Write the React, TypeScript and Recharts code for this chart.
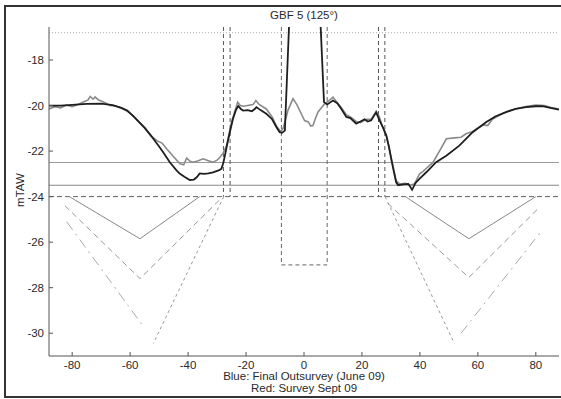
import React from 'react';
import { LineChart, Line, XAxis, YAxis, ReferenceLine } from 'recharts';

// Blue: final outsurvey (June 09) - drawn dark in the scan
const blueAngle = [
  -88, -84, -80, -75, -70, -66, -63, -61, -59, -57, -55, -52, -50, -48.6, -46.3, -44, -42.8, -41,
  -39.4, -38, -37, -36, -34.5, -33, -31.4, -29.5, -28.5, -27.8, -27.3, -26.5, -25.6, -24.5, -23.5,
  -22.7, -21.8, -21, -19.5, -18, -17, -16.4, -15, -13, -11, -9.5, -8.4, -7.6, -6.6, 0, 6.9, 8, 10,
  11.5, 12.9, 14.6, 16, 18, 19.5, 20.9, 22, 23.2, 24.9, 26.1, 27.2, 28.4, 29.3, 30.1, 31, 31.8, 32.5,
  34.1, 36, 37.3, 38.5, 40, 42.2, 45.6, 49.1, 53.6, 58.2, 62.8, 66, 69.7, 73, 76.6, 80, 82.3, 85, 88,
];
const blueLevel = [
  -20.0, -20.0, -19.97, -19.93, -19.92, -19.98, -20.1, -20.22, -20.45, -20.72, -20.98, -21.46, -21.8,
  -22.05, -22.49, -22.85, -23.0, -23.15, -23.27, -23.25, -23.15, -22.98, -23.0, -22.98, -22.93, -22.85,
  -22.78, -22.5, -22.2, -21.7, -21.17, -20.58, -20.2, -20.02, -20.15, -20.22, -20.2, -20.25, -20.15,
  -20.07, -20.2, -20.36, -20.6, -20.95, -21.17, -21.2, -21.1, 0, -19.85, -19.95, -19.78, -19.9, -20.15,
  -20.5, -20.55, -20.8, -20.7, -20.6, -20.7, -20.65, -20.3, -20.66, -20.95, -21.32, -21.8, -22.34,
  -22.9, -23.37, -23.5, -23.46, -23.44, -23.7, -23.4, -23.2, -22.93, -22.49, -22.2, -21.76, -21.17,
  -20.73, -20.48, -20.29, -20.15, -20.07, -20.03, -20.03, -20.1, -20.18,
];

// Red: survey Sept 09 - drawn grey in the scan
const redAngle = [
  -88, -86, -84, -82, -80, -78, -76.7, -74.5, -73.8, -72.8, -72.1, -71, -69, -67, -65, -63, -61, -59,
  -57, -55, -52.5, -50.8, -49, -47.4, -45, -42.8, -41.5, -40.5, -39.3, -38.2, -36.5, -34.8, -33, -31.4,
  -30, -29, -28, -26.7, -25, -24, -22.9, -22, -21, -19.5, -17.6, -16.6, -15.5, -13, -11, -9.5, -8,
  -7.2, -5.5, -3.8, -2.5, -1, 0.2, 1.5, 2.3, 3.1, 4, 4.8, 6, 7.1, 8.5, 10, 11, 12.9, 14.6, 16, 18, 19.5,
  21.5, 23.2, 24.9, 26, 27, 28.4, 30.1, 31.8, 33, 35, 36.4, 38, 38.7, 39.9, 41, 42.7, 44.5, 47, 49.1,
  52, 54.2, 55.9, 58, 60.5, 62, 63.4, 65, 68, 71, 74, 77, 80, 83, 85, 88,
];
const redLevel = [
  -20.15, -20.05, -20.1, -19.98, -20.05, -19.95, -19.88, -19.75, -19.6, -19.72, -19.62, -19.75, -19.85,
  -20.0, -20.02, -20.12, -20.25, -20.45, -20.7, -20.95, -21.35, -21.54, -21.65, -21.9, -22.25, -22.56,
  -22.6, -22.31, -22.45, -22.49, -22.42, -22.34, -22.42, -22.49, -22.4, -22.27, -22.1, -21.76, -20.73,
  -20.3, -19.85, -20.0, -20.03, -20.0, -19.96, -19.78, -19.95, -20.15, -20.5, -20.9, -21.15, -21.0,
  -20.2, -19.7, -19.95, -20.35, -20.66, -20.72, -20.9, -20.88, -20.55, -20.29, -20.1, -19.93, -19.8,
  -19.63, -19.8, -20.1, -20.4, -20.5, -20.7, -20.75, -20.6, -20.6, -20.25, -20.5, -20.9, -21.3, -22.3,
  -23.3, -23.45, -23.42, -23.5, -23.45, -23.3, -23.0, -22.9, -22.7, -22.5, -21.95, -21.46, -21.42,
  -21.39, -21.24, -21.15, -20.95, -20.85, -20.88, -20.6, -20.38, -20.22, -20.12, -20.03, -19.98, -20.0,
  -20.08, -20.15,
];

// design profiles below the bed level
const solidLeftX = [-81, -56.6, -36];
const solidLeftY = [-24, -25.85, -24];
const solidRightX = [35, 56.9, 80];
const solidRightY = [-24, -25.85, -24];
const dashLeftX = [-82.5, -56.6, -28.8];
const dashLeftY = [-24.4, -27.6, -24.1];
const dashRightX = [28.9, 56.9, 80.6];
const dashRightY = [-24.3, -27.55, -24.55];
const fineLeftX = [-27.7, -52];
const fineLeftY = [-24, -30.45];
const fineRightX = [28, 51.9];
const fineRightY = [-24, -30.45];
const dotDashLeftX = [-81.9, -56];
const dotDashLeftY = [-25.1, -29.6];
const dotDashRightX = [54.2, 82.3];
const dotDashRightY = [-30.0, -25.45];

const xTicks = [-80, -60, -40, -20, 0, 20, 40, 60, 80];
const yTicks = [-30, -28, -26, -24, -22, -20, -18];

const dottedLevel = -16.8;
const upperLevel = -22.5;
const lowerLevel = -23.5;
const bedLevel = -24;
const outerPosts = [-27.8, -25.5, 25.7, 27.9];
const innerPosts = [-7.8, 8.0];
const innerFloor = -27;

const X_DOMAIN: [number, number] = [-88, 88];
const Y_DOMAIN: [number, number] = [-31, -16.55];

const FONT = '"Liberation Sans", Arial, sans-serif';
const TEXT = '#2a2a2a';
const AXIS = '#555';

const zip = (xs: number[], ys: number[]) => xs.map((x, i) => ({ x, y: ys[i] }));

const YTick = (props: any) => {
  const { x, y, payload } = props;
  return (
    <g>
      <text x={x} y={y} dy="0.355em" textAnchor="end" fill={TEXT} fontSize={11.5} fontFamily={FONT}>
        {payload.value}
      </text>
      <line x1={x + 5} x2={x + 9} y1={y} y2={y} stroke={AXIS} />
    </g>
  );
};

const XTick = (props: any) => {
  const { x, y, payload } = props;
  return (
    <g>
      <text x={x} y={y} dy="0.71em" textAnchor="middle" fill={TEXT} fontSize={11.5} fontFamily={FONT}>
        {payload.value}
      </text>
      <line x1={x} x2={x} y1={y - 5} y2={y - 9} stroke={AXIS} />
    </g>
  );
};

const profiles = [
  { key: 'solidL', data: zip(solidLeftX, solidLeftY), stroke: '#888', dash: undefined },
  { key: 'solidR', data: zip(solidRightX, solidRightY), stroke: '#888', dash: undefined },
  { key: 'dashL', data: zip(dashLeftX, dashLeftY), stroke: '#999', dash: '6 4' },
  { key: 'dashR', data: zip(dashRightX, dashRightY), stroke: '#999', dash: '6 4' },
  { key: 'fineL', data: zip(fineLeftX, fineLeftY), stroke: '#999', dash: '3 3' },
  { key: 'fineR', data: zip(fineRightX, fineRightY), stroke: '#999', dash: '3 3' },
  { key: 'ddL', data: zip(dotDashLeftX, dotDashLeftY), stroke: '#aaa', dash: '10 5 2 5' },
  { key: 'ddR', data: zip(dotDashRightX, dotDashRightY), stroke: '#aaa', dash: '10 5 2 5' },
];

export default function App() {
  const blue = zip(blueAngle, blueLevel);
  const red = zip(redAngle, redLevel);

  return (
    <div
      style={{
        position: 'absolute',
        left: 0,
        top: 0,
        width: 561,
        height: 399,
        background: '#fff',
        overflow: 'hidden',
        fontFamily: FONT,
        color: TEXT,
      }}
    >
      <div
        style={{
          position: 'absolute',
          left: 4,
          top: 5,
          width: 560,
          height: 393,
          border: '2px solid #333',
          borderRight: 'none',
          boxSizing: 'border-box',
        }}
      />
      <div style={{ position: 'absolute', left: 204, top: 8, width: 200, textAlign: 'center', fontSize: 11.5, lineHeight: '14px' }}>
        GBF 5 (125°)
      </div>
      <div
        style={{
          position: 'absolute',
          left: 0,
          top: 183,
          width: 40,
          textAlign: 'center',
          fontSize: 11.5,
          lineHeight: '14px',
          transform: 'translate(0px, 0px) rotate(-90deg)',
          transformOrigin: '20px 7px',
        }}
      >
        mTAW
      </div>
      <div style={{ position: 'absolute', left: 154, top: 370, width: 300, textAlign: 'center', fontSize: 11.5, lineHeight: '13px' }}>
        Blue: Final Outsurvey (June 09)
      </div>
      <div style={{ position: 'absolute', left: 154, top: 382, width: 300, textAlign: 'center', fontSize: 11.5, lineHeight: '13px' }}>
        Red: Survey Sept 09
      </div>

      <div style={{ position: 'absolute', left: 0, top: 0 }}>
        <LineChart width={561} height={399} margin={{ top: 27, right: 2, bottom: 0, left: 0 }}>
          <XAxis
            type="number"
            dataKey="x"
            domain={X_DOMAIN}
            ticks={xTicks}
            allowDataOverflow
            height={43}
            tickSize={0}
            tickMargin={5}
            tickLine={false}
            axisLine={{ stroke: AXIS }}
            tick={<XTick />}
          />
          <YAxis
            type="number"
            dataKey="y"
            domain={Y_DOMAIN}
            ticks={yTicks}
            allowDataOverflow
            width={49}
            tickSize={0}
            tickMargin={5}
            tickLine={false}
            axisLine={{ stroke: AXIS }}
            tick={<YTick />}
          />

          <ReferenceLine y={dottedLevel} stroke="#aaa" strokeDasharray="1 2" />
          <ReferenceLine y={upperLevel} stroke="#999" />
          <ReferenceLine y={lowerLevel} stroke="#888" />
          <ReferenceLine y={bedLevel} stroke="#666" strokeDasharray="5 3" />
          {outerPosts.map((px) => (
            <ReferenceLine
              key={'o' + px}
              segment={[{ x: px, y: Y_DOMAIN[1] }, { x: px, y: bedLevel }]}
              stroke="#555"
              strokeDasharray="4 3"
            />
          ))}
          {innerPosts.map((px) => (
            <ReferenceLine
              key={'i' + px}
              segment={[{ x: px, y: Y_DOMAIN[1] }, { x: px, y: innerFloor }]}
              stroke="#666"
              strokeDasharray="4 3"
            />
          ))}
          <ReferenceLine
            segment={[{ x: innerPosts[0], y: innerFloor }, { x: innerPosts[1], y: innerFloor }]}
            stroke="#666"
            strokeDasharray="4 3"
          />

          {profiles.map((p) => (
            <Line
              key={p.key}
              data={p.data}
              dataKey="y"
              type="linear"
              stroke={p.stroke}
              strokeWidth={1}
              strokeDasharray={p.dash}
              dot={false}
              activeDot={false}
              isAnimationActive={false}
            />
          ))}

          <Line
            data={red}
            dataKey="y"
            type="linear"
            stroke="#8a8a8a"
            strokeWidth={1.6}
            dot={false}
            activeDot={false}
            isAnimationActive={false}
          />
          <Line
            data={blue}
            dataKey="y"
            type="linear"
            stroke="#1e1e1e"
            strokeWidth={1.8}
            dot={false}
            activeDot={false}
            isAnimationActive={false}
          />
        </LineChart>
      </div>
    </div>
  );
}
